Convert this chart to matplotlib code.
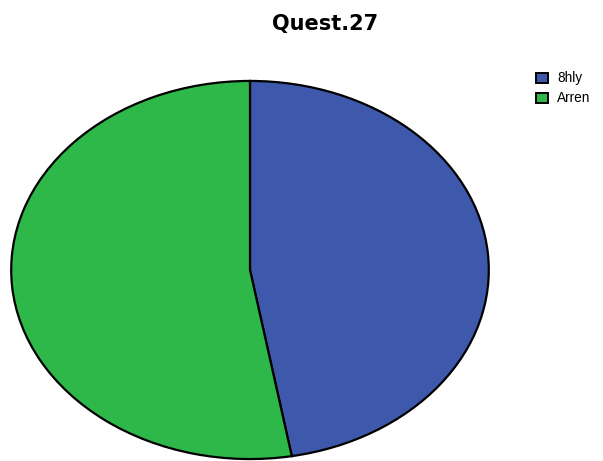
import matplotlib
matplotlib.use("Agg")
import matplotlib.pyplot as plt
from matplotlib.patches import Rectangle

plt.rcParams['font.family'] = ['Liberation Sans', 'DejaVu Sans']

title = "Quest.27"
categories = ["8hly", "Arren"]
values = [47.2, 52.8]
colors = ["#3e58ac", "#2eb84a"]

W, H = 603, 461
fig = plt.figure(figsize=(W / 100, H / 100), dpi=100)
fig.patch.set_facecolor("white")

# Elliptical pie area (pixel box converted to figure fractions)
left, top, right, bottom = 10, 80, 490, 460
ax = fig.add_axes([left / W, (H - bottom) / H, (right - left) / W, (bottom - top) / H])
ax.pie(values, colors=colors, startangle=90, counterclock=False,
       wedgeprops=dict(edgecolor="black", linewidth=1.6))
ax.set_aspect("auto")
ax.set_xlim(-1.005, 1.005)
ax.set_ylim(-1.005, 1.005)
ax.axis("off")

fig.text(325 / W, 1 - 30 / H, title, ha="center", va="baseline",
         fontsize=15, fontweight="bold", family="DejaVu Sans")

# Legend: square swatches with labels at the top right
box_x, box_w, box_h = 536, 12, 10
row_y = [78, 98]
for lab, col, yc in zip(categories, colors, row_y):
    fig.add_artist(Rectangle((box_x / W, 1 - (yc + box_h / 2) / H),
                             box_w / W, box_h / H, transform=fig.transFigure,
                             facecolor=col, edgecolor="black", linewidth=1.4))
    fig.text(557 / W, 1 - yc / H, lab, ha="left", va="center", fontsize=9.8)

fig.savefig("out.png", dpi=100)
